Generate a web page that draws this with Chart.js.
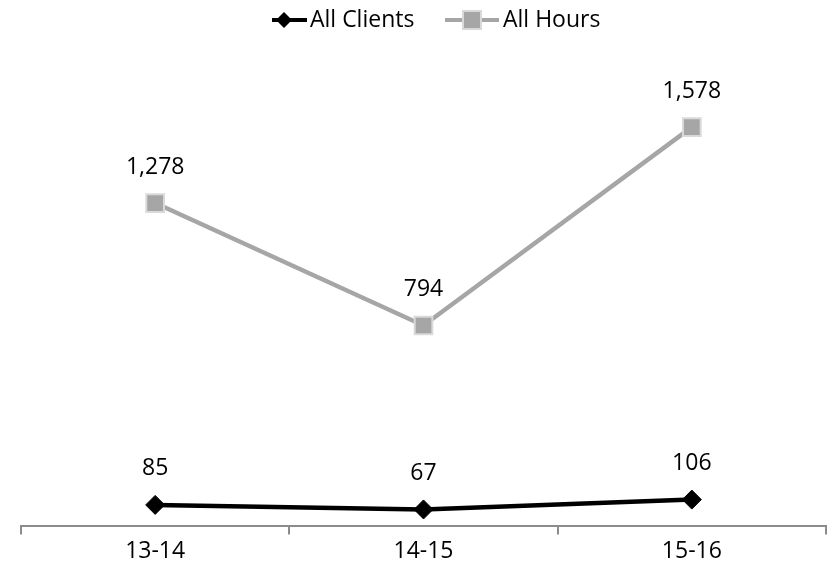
<!DOCTYPE html>
<html>
<head>
<meta charset="utf-8">
<script src="https://cdn.jsdelivr.net/npm/chart.js@4/dist/chart.umd.min.js"></script>
<style>
  html, body { margin: 0; padding: 0; background: #fff; }
  #wrap { width: 831px; height: 572px; }
</style>
</head>
<body>
<div id="wrap"><canvas id="chart" width="831" height="572"></canvas></div>
<script>
const years   = ['13-14', '14-15', '15-16'];
const clients = [85, 67, 106];
const hours   = [1278, 794, 1578];

const FONT = "'Open Sans', sans-serif";

// Value labels above each point
const pointLabels = {
  id: 'pointLabels',
  afterDatasetsDraw(chart) {
    const ctx = chart.ctx;
    ctx.save();
    ctx.font = '23px ' + FONT;
    ctx.fillStyle = '#000';
    ctx.textAlign = 'center';
    ctx.textBaseline = 'middle';
    chart.data.datasets.forEach((ds, i) => {
      chart.getDatasetMeta(i).data.forEach((pt, j) => {
        ctx.fillText(ds.data[j].toLocaleString('en-US'), pt.x, pt.y - 36);
      });
    });
    ctx.restore();
  }
};

// Excel style legend: line with marker in the middle
const lineLegend = {
  id: 'lineLegend',
  afterDraw(chart) {
    const ctx = chart.ctx;
    const items = [
      { ds: 0, x0: 272, x1: 307, mx: 284, tx: 310 },
      { ds: 1, x0: 445, x1: 499, mx: 472, tx: 503 }
    ];
    const y = 20;
    ctx.save();
    items.forEach(it => {
      const ds = chart.data.datasets[it.ds];
      ctx.strokeStyle = ds.borderColor;
      ctx.lineWidth = 4;
      ctx.beginPath();
      ctx.moveTo(it.x0, y);
      ctx.lineTo(it.x1, y);
      ctx.stroke();
      ctx.fillStyle = ds.pointBackgroundColor;
      ctx.strokeStyle = ds.pointBorderColor;
      ctx.lineWidth = ds.pointBorderWidth;
      if (ds.pointStyle === 'rectRot') {
        ctx.beginPath();
        ctx.moveTo(it.mx, y - 8);
        ctx.lineTo(it.mx + 8, y);
        ctx.lineTo(it.mx, y + 8);
        ctx.lineTo(it.mx - 8, y);
        ctx.closePath();
        ctx.fill();
      } else {
        ctx.fillRect(it.mx - 9, y - 9, 18, 18);
        ctx.strokeRect(it.mx - 9, y - 9, 18, 18);
      }
      ctx.fillStyle = '#000';
      ctx.font = '23px ' + FONT;
      ctx.textAlign = 'left';
      ctx.textBaseline = 'middle';
      ctx.fillText(ds.label, it.tx, y);
    });
    ctx.restore();
  }
};

new Chart(document.getElementById('chart'), {
  type: 'line',
  data: {
    labels: years,
    datasets: [{
      label:                'All Clients',
      data:                 clients,
      borderColor:          '#000000',
      borderWidth:          4.5,
      pointStyle:           'rectRot',
      pointRadius:          9.5,
      pointBackgroundColor: '#000000',
      pointBorderColor:     '#000000',
      pointBorderWidth:     1,
      tension:              0
    }, {
      label:                'All Hours',
      data:                 hours,
      borderColor:          '#a6a6a6',
      borderWidth:          4.5,
      pointStyle:           'rect',
      pointRadius:          12.5,
      pointBackgroundColor: '#a6a6a6',
      pointBorderColor:     '#d9d9d9',
      pointBorderWidth:     2,
      tension:              0
    }]
  },
  options: {
    responsive: false,
    animation: false,
    layout: { autoPadding: false, padding: { left: 21, right: 5, top: 71, bottom: 4 } },
    plugins: {
      legend:  { display: false },
      tooltip: { enabled: false }
    },
    scales: {
      x: {
        offset: true,
        grid: {
          offset: true,
          drawOnChartArea: false,
          drawTicks: true,
          tickLength: 8,
          color: '#8c8c8c',
          lineWidth: 2
        },
        border: { display: true, color: '#8c8c8c', width: 2 },
        ticks: { color: '#000', font: { family: FONT, size: 23 }, padding: 3 }
      },
      y: {
        display: false,
        min: 0,
        max: 1800
      }
    }
  },
  plugins: [pointLabels, lineLegend]
});
</script>
</body>
</html>
